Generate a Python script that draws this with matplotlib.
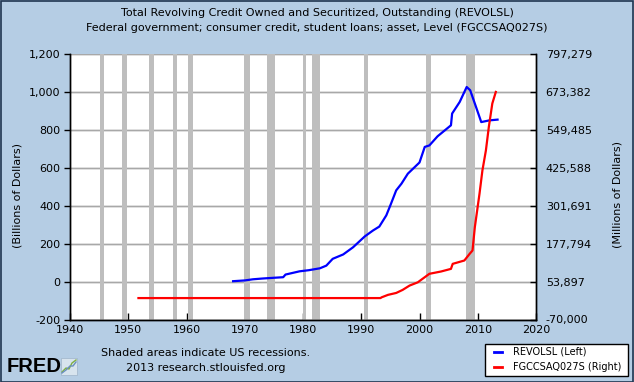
import matplotlib
matplotlib.use("Agg")
import matplotlib.pyplot as plt
from matplotlib.patches import Rectangle
from matplotlib.lines import Line2D
from matplotlib.ticker import FuncFormatter

# ---------------- data ----------------
title_lines = ["Total Revolving Credit Owned and Securitized, Outstanding (REVOLSL)",
               "Federal government; consumer credit, student loans; asset, Level (FGCCSAQ027S)"]

revolsl_years = [1968.0, 1969.0, 1970.0, 1971.4, 1973.0, 1975.0, 1976.6, 1977.0, 1979.4,
                 1981.0, 1982.9, 1984.0, 1985.1, 1986.9, 1988.6, 1990.6, 1992.0, 1993.1,
                 1994.3, 1995.1, 1996.0, 1996.9, 1998.0, 2000.0, 2000.9, 2001.7, 2003.1,
                 2005.4, 2005.6, 2006.9, 2008.1, 2008.7, 2009.7, 2010.6, 2012.0, 2013.4]
revolsl_values = [2, 4, 6, 12, 16, 20, 23, 37, 54, 60, 70, 84, 120, 143, 181, 238, 269, 290,
                  349, 410, 481, 516, 569, 628, 710, 718, 766, 824, 886, 947, 1026, 1009,
                  921, 841, 850, 854]

fgcc_years = [1951.75, 1993.3, 1993.5, 1994.6, 1996.0, 1997.1, 1998.3, 1999.7, 2000.9,
              2001.7, 2003.7, 2005.4, 2005.7, 2007.7, 2008.6, 2009.1, 2009.5, 2010.3,
              2010.8, 2011.4, 2011.9, 2012.5, 2013.1]
fgcc_values = [0, 0, 2480, 10535, 16730, 26640, 40890, 51400, 68150, 79300, 86800, 95400,
               111800, 122700, 144300, 155400, 231700, 340600, 416800, 482400, 558700,
               635600, 673382]

recession_starts = [1945.1, 1948.9, 1953.5, 1957.6, 1960.3, 1969.9, 1973.9, 1980.0, 1981.5,
                    1990.5, 2001.2, 2007.9]
recession_ends = [1945.8, 1949.8, 1954.4, 1958.3, 1961.1, 1970.9, 1975.2, 1980.5, 1982.9,
                  1991.2, 2001.9, 2009.5]

left_ticks = [-200, 0, 200, 400, 600, 800, 1000, 1200]
right_ticks = [-70000, 53897, 177794, 301691, 425588, 549485, 673382, 797279]
x_ticks = [1940, 1950, 1960, 1970, 1980, 1990, 2000, 2010, 2020]
legend_labels = ["REVOLSL (Left)", "FGCCSAQ027S (Right)"]

# ---------------- figure ----------------
W, H = 634, 382
bg = "#b5cde4"
fig = plt.figure(figsize=(W / 100, H / 100), dpi=100, facecolor=bg)

def fx(px):
    return px / W

def fy(py):
    return 1 - py / H

ax_l, ax_r, ax_t, ax_b = 70, 536, 54, 319.5
ax = fig.add_axes([fx(ax_l), fy(ax_b), (ax_r - ax_l) / W, (ax_b - ax_t) / H])
ax.set_facecolor("white")

for s, e in zip(recession_starts, recession_ends):
    ax.axvspan(s, e, color="#bebebe", lw=0, zorder=1)

ax.set_xlim(1940, 2020)
ax.set_ylim(-200, 1200)
ax.set_yticks(left_ticks)
ax.set_xticks(x_ticks)
ax.yaxis.grid(True, color="#a8a8a8", lw=1)
ax.set_axisbelow(True)
for t in left_ticks:
    ax.axhline(t, color="#a8a8a8", lw=1, zorder=0.5)
ax.yaxis.set_major_formatter(FuncFormatter(lambda v, p: f"{int(v):,}"))

ax.plot(revolsl_years, revolsl_values, color="#0000ff", lw=1.6, zorder=3)

ax2 = ax.twinx()
ax2.set_ylim(right_ticks[0], right_ticks[-1])
ax2.set_yticks(right_ticks)
ax2.yaxis.set_major_formatter(FuncFormatter(lambda v, p: f"{int(round(v)):,}"))
ax2.plot(fgcc_years, fgcc_values, color="#ff0000", lw=1.6, zorder=3)

for a in (ax, ax2):
    a.spines["top"].set_visible(False)
    for sp in ("left", "right", "bottom"):
        a.spines[sp].set_color("black")
        a.spines[sp].set_linewidth(1)

ax.tick_params(axis="y", direction="out", length=4, width=1, pad=3, labelsize=8, colors="black")
ax.tick_params(axis="x", direction="in", length=5, width=1, pad=4, labelsize=8, colors="black")
ax2.tick_params(axis="y", direction="in", length=4, width=1, pad=7, labelsize=8, colors="black")

# titles
fig.text(fx(317), fy(13), title_lines[0], ha="center", va="center", fontsize=8)
fig.text(fx(317), fy(28), title_lines[1], ha="center", va="center", fontsize=8)

# axis labels
fig.text(fx(18), fy(195), "(Billions of Dollars)", rotation=90, ha="center", va="center", fontsize=8)
fig.text(fx(618), fy(195), "(Millions of Dollars)", rotation=90, ha="center", va="center", fontsize=8)

# footer text
fig.text(fx(206), fy(353), "Shaded areas indicate US recessions.", ha="center", va="center", fontsize=8)
fig.text(fx(206), fy(368), "2013 research.stlouisfed.org", ha="center", va="center", fontsize=8)

# FRED logo
fig.text(fx(7), fy(366), "FRED", ha="left", va="center", fontsize=14.5,
         fontweight="bold", family="Liberation Sans", color="black")
fig.patches.append(Rectangle((fx(61), fy(375)), 16 / W, 17 / H, transform=fig.transFigure,
                             facecolor="#d8e4ee", edgecolor="#9fb4c8", lw=0.5))
fig.lines.append(Line2D([fx(62), fx(66), fx(69), fx(72), fx(76)],
                        [fy(372), fy(368), fy(369), fy(363), fy(360)],
                        transform=fig.transFigure, color="#7fb040", lw=1))
fig.lines.append(Line2D([fx(62), fx(66), fx(70), fx(73), fx(76)],
                        [fy(373), fy(370), fy(366), fy(366), fy(362)],
                        transform=fig.transFigure, color="#6a8fc0", lw=1))

# legend box
fig.patches.append(Rectangle((fx(485), fy(376)), (628 - 485) / W, (376 - 344) / H,
                             transform=fig.transFigure, facecolor="white", edgecolor="black", lw=1))
for i, (lab, col) in enumerate(zip(legend_labels, ["#0000ff", "#ff0000"])):
    yy = 352 + i * 15
    fig.lines.append(Line2D([fx(494), fx(502)], [fy(yy), fy(yy)], transform=fig.transFigure,
                            color=col, lw=2))
    fig.text(fx(513), fy(yy), lab, ha="left", va="center", fontsize=7)

# outer border
fig.patches.append(Rectangle((0.5 / W, 0.5 / H), 1 - 1.5 / W, 1 - 1.5 / H, transform=fig.transFigure,
                             facecolor="none", edgecolor="#1f3550", lw=1.2))

fig.savefig("out.png", dpi=100, facecolor=bg)
